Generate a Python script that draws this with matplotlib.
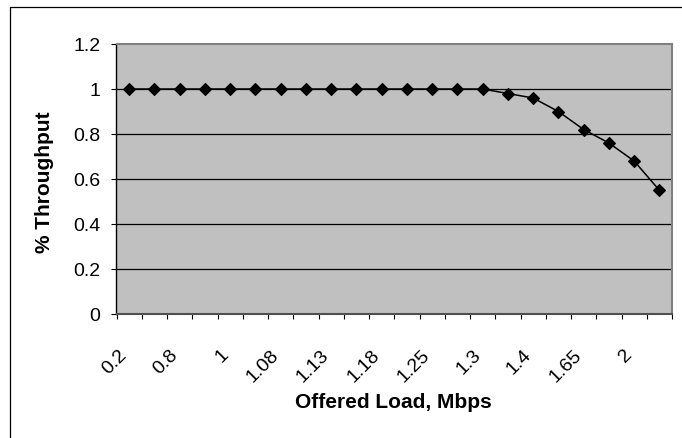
import matplotlib
matplotlib.use("Agg")
import matplotlib.pyplot as plt
from matplotlib.patches import Rectangle
from matplotlib.transforms import ScaledTranslation

# Data
categories = ["0.2", "0.5", "0.8", "0.9", "1", "1.04", "1.08", "1.1", "1.13", "1.15", "1.18",
              "1.2", "1.25", "1.28", "1.3", "1.35", "1.4", "1.5", "1.65", "1.8", "2", "2.5"]
throughput = [1.0, 1.0, 1.0, 1.0, 1.0, 1.0, 1.0, 1.0, 1.0, 1.0, 1.0, 1.0, 1.0, 1.0, 1.0,
              0.98, 0.96, 0.90, 0.82, 0.76, 0.68, 0.55]
y_ticks = [0, 0.2, 0.4, 0.6, 0.8, 1.0, 1.2]
y_tick_labels = ["0", "0.2", "0.4", "0.6", "0.8", "1", "1.2"]

plt.rcParams['font.family'] = ['Liberation Sans', 'DejaVu Sans']

W, H = 682, 439
fig = plt.figure(figsize=(W / 100, H / 100), dpi=100)
fig.patch.set_facecolor("white")

# outer chart border (right/bottom outside image)
fig.patches.append(Rectangle((10 / W, -0.2), 1.5, 1 - 8 / H + 0.2, transform=fig.transFigure,
                             fill=False, edgecolor="black", linewidth=0.9, zorder=0))

left, right, top, bottom = 116.5, 672, 45, 315
ax = fig.add_axes([left / W, 1 - bottom / H, (right - left) / W, (bottom - top) / H])
ax.set_facecolor("#C0C0C0")

n = len(categories)
xs = list(range(n))
ax.plot(xs, throughput, color="black", linewidth=1.1, marker="D", markersize=6,
        markerfacecolor="black", markeredgecolor="black", markeredgewidth=0.8,
        zorder=3, clip_on=False)

ax.set_xlim(-0.5, n - 0.5)
ax.set_ylim(0, 1.2)

# y axis
ax.set_yticks(y_ticks)
ax.set_yticklabels(y_tick_labels)
ax.tick_params(axis="y", direction="out", length=3.6, width=0.8, color="black",
               labelsize=14, pad=8)
for yv in y_ticks[1:-1]:
    ax.axhline(yv, color="black", linewidth=0.9, zorder=1)

# x axis: labels on every other category, ticks between categories
label_idx = list(range(0, n, 2))
ax.set_xticks(label_idx)
ax.set_xticklabels([categories[i] for i in label_idx], rotation=45, ha="right",
                   va="center", rotation_mode="anchor")
ax.tick_params(axis="x", which="major", length=0, labelsize=14, pad=27)
ax.set_xticks([i - 0.5 for i in range(n + 1)], minor=True)
ax.tick_params(axis="x", which="minor", direction="out", length=3.6, width=0.8,
               color="black")
off = ScaledTranslation(-4.5 / 100, 0, fig.dpi_scale_trans)
for lab in ax.get_xticklabels():
    lab.set_transform(lab.get_transform() + off)

for s in ["top", "right"]:
    ax.spines[s].set_color("#808080")
    ax.spines[s].set_linewidth(1.5)
ax.spines["left"].set_color("black")
ax.spines["left"].set_linewidth(1.0)
ax.spines["bottom"].set_color("#505050")
ax.spines["bottom"].set_linewidth(1.5)

fig.text(393 / W, 1 - 403 / H, "Offered Load, Mbps", ha="center", va="center",
         fontsize=15, fontweight="bold")
fig.text(45 / W, 1 - 182 / H, "% Throughput", ha="center", va="center",
         rotation=90, fontsize=15, fontweight="bold")

fig.savefig("out.png", dpi=100)
